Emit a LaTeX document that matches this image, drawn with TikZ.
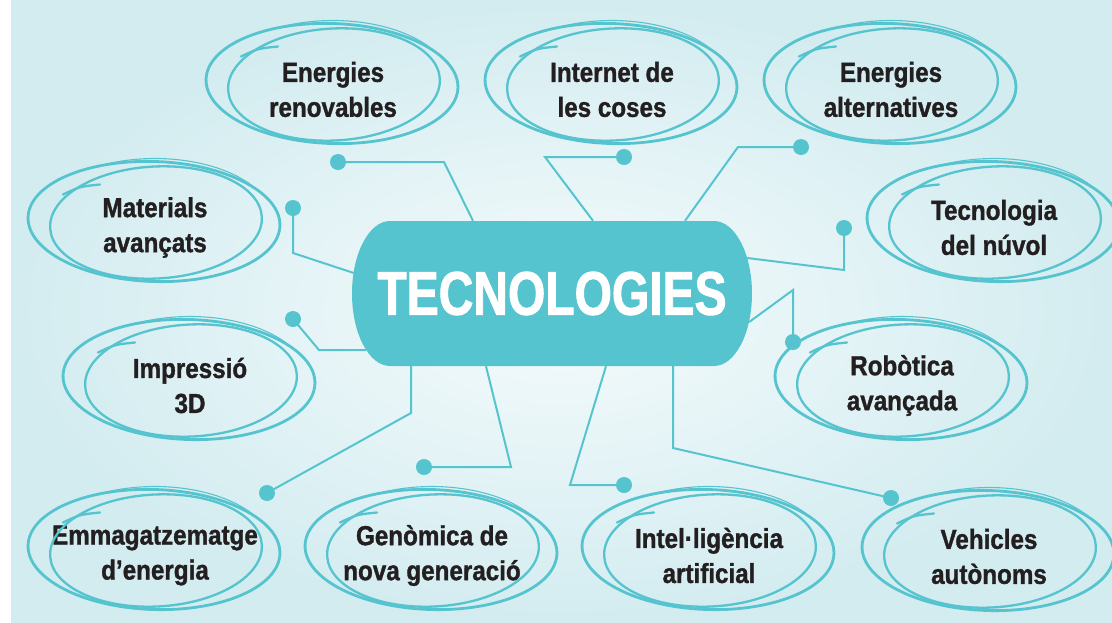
\documentclass[tikz,border=0pt]{standalone}
\usepackage{fontspec}
\newfontfamily\bubfont{Liberation Sans}[FakeStretch=0.88, FakeBold=1.2]
\newfontfamily\titfont{Liberation Sans}[FakeStretch=0.78, FakeBold=1.5]
\usetikzlibrary{positioning}
\definecolor{tealc}{HTML}{55C4CE}
\definecolor{bgout}{HTML}{D3ECF0}
\definecolor{bgin}{HTML}{F5FBFC}
\definecolor{ink}{HTML}{231F20}
\tikzset{
  bubtext/.style={align=center, text=ink, inner sep=0pt, font=\bubfont\bfseries\fontsize{27.5}{35}\selectfont},
  core/.style={minimum width=400pt, minimum height=145pt, inner sep=0pt, text=white, font=\titfont\bfseries\fontsize{61.5}{61.5}\selectfont},
  conn/.style={draw=tealc, line width=2pt},
  dot/.style={circle, fill=tealc, inner sep=0pt, minimum size=16pt},
  loopa/.style={draw=tealc, line width=2.8pt},
  loopb/.style={draw=tealc, line width=2.3pt, line cap=round},
  loopc/.style={draw=tealc, line width=1.1pt}
}
\begin{document}
\begin{tikzpicture}[x=1pt, y=-1pt]
\useasboundingbox (0,0) rectangle (1112,622);
\shade[inner color=bgin, outer color=bgout] (11,0) rectangle (1112,622);

\fill[tealc] (390,221) -- (714,221) arc[start angle=90, end angle=-90, x radius=38pt, y radius=72.5pt]
  -- (390,366) arc[start angle=270, end angle=90, x radius=38pt, y radius=72.5pt] -- cycle;
\node[core] (tec) at (552,293.5) {TECNOLOGIES};

\node[dot] (der) at (338,162) {};
\node[dot] (dic) at (624,157) {};
\node[dot] (dea) at (801,147) {};
\node[dot] (dma) at (293,208) {};
\node[dot] (dtn) at (844,228) {};
\node[dot] (dim) at (293,319) {};
\node[dot] (dra) at (793,342) {};
\node[dot] (dem) at (267,493) {};
\node[dot] (dgn) at (424,467) {};
\node[dot] (dia) at (624,485) {};
\node[dot] (dva) at (891,498) {};

\draw[conn] ([xshift=-79pt]tec.north) -- (444,162) -- (der.center);
\draw[conn] ([xshift=41pt]tec.north) -- (545,157) -- (dic.center);
\draw[conn] ([xshift=133pt]tec.north) -- (738,147) -- (dea.center);
\draw[conn] ([shift={(2pt,20.5pt)}]tec.west) -- (293,253) -- (dma.center);
\draw[conn] ([shift={(-5pt,35.5pt)}]tec.east) -- (844,270) -- (dtn.center);
\draw[conn] ([shift={(14pt,-56.5pt)}]tec.west) -- (319,350) -- (dim.center);
\draw[conn] ([shift={(-3pt,-28.5pt)}]tec.east) -- (793,290) -- (dra.center);
\draw[conn] ([xshift=-141pt]tec.south) -- (411,413) -- (dem.center);
\draw[conn] ([xshift=-66pt]tec.south) -- (511,467) -- (dgn.center);
\draw[conn] ([xshift=54pt]tec.south) -- (570,485) -- (dia.center);
\draw[conn] ([xshift=121pt]tec.south) -- (673,448) -- (dva.center);

\foreach \nm/\pos/\txt in {er/{333,89.5}/{Energies\\renovables}, ic/{612,89.5}/{Internet de\\les coses},
  ea/{891,89.5}/{Energies\\alternatives}, ma/{155,227.5}/{Materials\\avançats},
  tn/{994,227.5}/{Tecnologia\\del núvol}, im/{190,385.5}/{Impressió\\3D},
  ra/{902,385.5}/{Robòtica\\avançada}, em/{155,555.5}/{Emmagatzematge\\d’energia},
  gn/{432,555.5}/{Genòmica de\\nova generació}, ia/{709,555.5}/{Intel·ligència\\artificial},
  va/{989,556.5}/{Vehicles\\autònoms}}{
  \node[bubtext] (\nm) at (\pos) {\txt};
  \draw[loopa, shift={([shift={(-1pt,6pt)}]\nm.center)}, rotate=-2] (0,0) ellipse [x radius=126pt, y radius=60pt];
  \draw[loopb, shift={([shift={(1pt,5pt)}]\nm.center)}, rotate=3] (0,0) ellipse [x radius=106pt, y radius=56pt];
  \draw[loopc, shift={([yshift=6pt]\nm.center)}] (35:118pt and 63pt) arc[start angle=35, end angle=120, x radius=118pt, y radius=63pt];
  \draw[loopb] ([shift={(-55pt,43pt)}]\nm.center) .. controls ([shift={(-75pt,41pt)}]\nm.center) .. ([shift={(-92pt,33pt)}]\nm.center);
}
\end{tikzpicture}
\end{document}
